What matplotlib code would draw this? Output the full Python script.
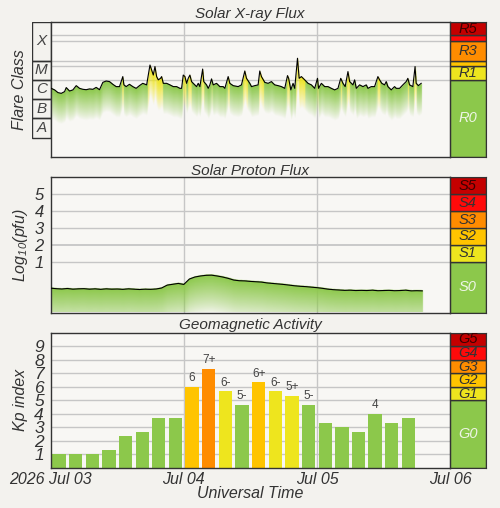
import numpy as np
import matplotlib.pyplot as plt
from matplotlib.patches import Rectangle
from matplotlib.colors import to_rgb

plt.rcParams['font.family'] = ['Liberation Sans', 'DejaVu Sans']
plt.rcParams['font.style'] = 'italic'
plt.rcParams['mathtext.fontset'] = 'custom'
plt.rcParams['mathtext.rm'] = 'Liberation Sans:italic'
plt.rcParams['mathtext.it'] = 'Liberation Sans:italic'

# X-ray flux, hours after 2026 Jul 03 00:00 UT, log10(W/m^2)
xray_hours = [0.1, 0.7, 1.3, 1.9, 2.5, 2.8, 3.4, 4.0, 4.6, 5.2, 5.8, 6.4, 7.0, 7.6, 8.2,
              8.8, 9.4, 10.0, 10.6, 11.2, 11.8, 12.4, 13.0, 13.2, 13.6, 14.2, 14.8, 15.4, 16.0, 16.6,
              17.3, 17.9, 18.2, 18.5, 18.8, 19.1, 19.4, 19.8, 20.0, 20.3, 20.9, 21.5, 22.1, 22.7,
              23.3, 23.6, 23.9, 24.2, 24.5, 24.8, 25.1, 25.4, 25.7, 26.3, 26.6, 26.9, 27.4, 27.6,
              28.1, 28.4, 28.7, 29.0, 29.3, 29.9, 30.5, 31.1, 31.4, 32.0, 32.3, 32.9,
              33.8, 34.4, 35.0, 35.3, 35.9, 36.2, 36.8, 37.4, 37.7, 38.0, 38.6, 39.2, 39.8, 40.1,
              40.4, 41.0, 41.6, 42.2, 42.7, 42.9, 43.3, 43.7, 44.0, 44.5, 44.8, 45.2, 45.8, 46.4,
              47.0, 47.6, 48.1, 48.3, 48.8, 49.4,
              50.0, 50.6, 51.2, 51.8, 52.3, 52.7, 53.1, 53.6, 53.9, 54.5, 54.8, 55.1, 55.7, 56.3,
              56.9, 57.2, 57.8, 58.4, 59.0, 59.3, 59.7, 60.2, 60.5, 60.8, 61.4, 62.0, 62.3, 62.9,
              63.5, 64.1, 64.4, 64.7, 65.3, 65.7, 65.9, 66.3, 66.8]
xray_log10 = [-5.44, -5.52, -5.66, -5.70, -5.61, -5.40, -5.58, -5.52, -5.30, -5.44, -5.49, -5.51,
              -5.47, -5.49, -5.39, -5.51, -5.13, -5.06, -5.09, -5.23, -5.35, -5.35, -4.83, -5.26,
              -5.35, -5.23, -5.35, -5.44, -5.30, -5.18,
              -5.26, -4.23, -4.49, -4.75, -4.31, -4.83, -5.00, -4.92, -4.83, -5.18, -5.18, -5.26,
              -5.35, -5.35, -5.44, -5.44, -4.75, -4.83, -5.18, -4.92, -4.75, -5.09, -5.18, -5.35,
              -5.18, -5.35, -4.44, -5.09, -5.26, -5.44, -5.26, -4.95, -5.26, -5.18, -5.35, -5.35,
              -5.44, -4.83, -5.18, -5.30,
              -5.35, -5.26, -4.54, -4.92, -5.18, -5.35, -5.30, -5.26, -4.54, -4.83, -5.13, -5.18,
              -5.09, -5.18, -5.26, -5.30, -5.35, -5.44, -4.78, -4.92, -5.52, -5.18, -5.44, -3.88,
              -4.92, -4.83, -5.00, -5.18, -5.26, -5.44, -4.92, -5.44, -5.18, -5.35,
              -5.35, -5.44, -5.52, -5.44, -4.92, -5.18, -5.35, -4.57, -5.09, -5.26, -5.00, -5.44,
              -5.26, -5.35, -5.26, -5.44, -5.35, -5.35, -4.83, -5.00, -5.18, -5.26, -5.09, -5.35,
              -5.52, -5.35, -5.44, -5.44, -5.26, -5.09, -4.92, -5.26, -5.35, -4.31, -5.18, -5.30,
              -5.18]

# proton flux (>=10 MeV), log10(pfu), hourly
proton_hours = list(range(68))
proton_log10 = [-0.56, -0.59, -0.61, -0.58, -0.62, -0.60, -0.59, -0.62, -0.60, -0.63,
                -0.60, -0.62, -0.61, -0.63, -0.60, -0.62, -0.64, -0.62, -0.63, -0.61,
                -0.55, -0.38, -0.33, -0.28, -0.34, -0.02, 0.10, 0.16, 0.20, 0.21,
                0.16, 0.10, 0.02, -0.08, -0.12, -0.13, -0.16, -0.18, -0.20, -0.25,
                -0.28, -0.31, -0.34, -0.38, -0.42, -0.45, -0.47, -0.50, -0.53, -0.57,
                -0.62, -0.65, -0.67, -0.69, -0.68, -0.70, -0.69, -0.70, -0.68, -0.71,
                -0.70, -0.69, -0.71, -0.70, -0.68, -0.72, -0.71, -0.72]

# planetary Kp, 3-hour intervals
kp_hours = [1.5 + 3 * i for i in range(22)]
kp_values = [1.0, 1.0, 1.0, 1.33, 2.33, 2.67, 3.67, 3.67, 6.0, 7.33, 5.67, 4.67,
             6.33, 5.67, 5.33, 4.67, 3.33, 3.0, 2.67, 4.0, 3.33, 3.67]
kp_labels = ["1", "1", "1", "1+", "2+", "3-", "4-", "4-", "6", "7+", "6-", "5-",
             "6+", "6-", "5+", "5-", "3+", "3", "3-", "4", "3+", "4-"]

day_ticks = [0, 24, 48, 72]
day_labels = ["2026 Jul 03", "Jul 04", "Jul 05", "Jul 06"]

BG = '#f3f2ee'
AXBG = '#f8f7f4'
GRID = '#c6c6c6'
EDGE = '#333333'
TXT = '#333333'
DARKRED = '#c40000'
RED = '#ff0a0a'
ORANGE = '#ff8c00'
GOLD = '#ffc400'
YELLOW = '#eee51e'
GREEN = '#8cc84b'

fig = plt.figure(figsize=(5, 5.08), dpi=100, facecolor=BG)


def box(l, t, r, b):
    return [l / 500, 1 - b / 508, (r - l) / 500, (b - t) / 508]


def gradient_fill(ax, hours, vals, ylo, yhi, depth, power, hi_level=None):
    xs = np.linspace(0, 72, 1200)
    ys = np.linspace(ylo, yhi, 500)
    c = np.interp(xs, hours, vals, left=np.nan, right=np.nan)
    d = c[None, :] - ys[:, None]
    a = np.clip(1 - d / depth, 0, 1) ** power
    a[(d < 0) | np.isnan(d)] = 0
    img = np.zeros((len(ys), len(xs), 4))
    g = np.array(to_rgb(GREEN))
    y = np.array(to_rgb(YELLOW))
    cols = np.tile(g, (len(xs), 1))
    if hi_level is not None:
        cols[np.nan_to_num(c, nan=-99) > hi_level] = y
    img[:, :, :3] = cols[None, :, :]
    img[:, :, 3] = a
    ax.imshow(img, extent=[0, 72, ylo, yhi], origin='lower', aspect='auto',
              interpolation='bilinear', zorder=1)


def style_axes(ax, ylo, yhi):
    ax.set_facecolor(AXBG)
    for s in ax.spines.values():
        s.set_color(EDGE)
        s.set_linewidth(1)
    ax.set_xlim(0, 72)
    ax.set_ylim(ylo, yhi)
    for h in (24, 48):
        ax.axvline(h, color=GRID, lw=1, zorder=0.5)


def scale_bar(rect, ylo, yhi, levels):
    sax = fig.add_axes(rect)
    sax.set_xlim(0, 1)
    sax.set_ylim(ylo, yhi)
    sax.set_xticks([])
    sax.set_yticks([])
    for s in sax.spines.values():
        s.set_color(EDGE)
    for lo, hi, lab, col, tcol in levels:
        sax.add_patch(Rectangle((0, lo), 1, hi - lo, facecolor=col, edgecolor=EDGE, lw=1))
        if lab:
            sax.text(0.5, (lo + hi) / 2, lab, ha='center', va='center', fontsize=10.5, color=tcol)
    return sax


# ---- Solar X-ray Flux ----
ax1 = fig.add_axes(box(50.7, 22, 450, 157))
style_axes(ax1, -9, -2)
for lv in (-5, np.log10(5e-5), -4, -3, np.log10(2e-3)):
    ax1.axhline(lv, color=GRID, lw=1, zorder=0.5)
gradient_fill(ax1, xray_hours, xray_log10, -9, -2, 1.6, 0.9, hi_level=-5)
ax1.plot(xray_hours, xray_log10, color='black', lw=0.8, zorder=3)
ax1.set_xlim(0, 72)
ax1.set_ylim(-9, -2)
ax1.set_xticks([])
ax1.set_yticks([])

cls = fig.add_axes(box(32, 22, 50.7, 157))
cls.set_xlim(0, 1)
cls.set_ylim(-9, -2)
cls.axis('off')
for lo, hi, lab in [(-8, -7, 'A'), (-7, -6, 'B'), (-6, -5, 'C'), (-5, -4, 'M'), (-4, -2, 'X')]:
    cls.add_patch(Rectangle((0, lo), 1, hi - lo, facecolor='none', edgecolor=EDGE, lw=1))
    cls.text(0.5, (lo + hi) / 2, lab, ha='center', va='center', fontsize=11, color='#444444')

scale_bar(box(450, 22, 485.7, 157), -9, -2, [
    (-9, -5, 'R0', GREEN, '#eef5e6'),
    (-5, np.log10(5e-5), 'R1', YELLOW, TXT),
    (np.log10(5e-5), -4, '', GOLD, TXT),
    (-4, -3, 'R3', ORANGE, TXT),
    (-3, np.log10(2e-3), '', RED, TXT),
    (np.log10(2e-3), -2, 'R5', DARKRED, '#3a0000'),
])

# ---- Solar Proton Flux ----
ax2 = fig.add_axes(box(50.7, 177.3, 450, 312.5))
style_axes(ax2, -2, 6)
for lv in range(1, 6):
    ax2.axhline(lv, color=GRID, lw=1.3 if lv == 2 else 1, zorder=0.5)
gradient_fill(ax2, proton_hours, proton_log10, -2, 6, 2.3, 0.8)
ax2.plot(proton_hours, proton_log10, color='black', lw=0.8, zorder=3)
ax2.set_xlim(0, 72)
ax2.set_ylim(-2, 6)
ax2.set_xticks([])
ax2.set_yticks(range(1, 6))
ax2.tick_params(axis='y', length=0, pad=5, labelsize=12, labelcolor=TXT)

scale_bar(box(450, 177.3, 485.7, 312.5), -2, 6, [
    (-2, 1, 'S0', GREEN, '#eef5e6'),
    (1, 2, 'S1', YELLOW, TXT),
    (2, 3, 'S2', GOLD, TXT),
    (3, 4, 'S3', ORANGE, TXT),
    (4, 5, 'S4', RED, TXT),
    (5, 6, 'S5', DARKRED, '#3a0000'),
])

# ---- Geomagnetic Activity ----
ax3 = fig.add_axes(box(50.7, 332.7, 450, 468))
style_axes(ax3, 0, 10)
for lv in range(1, 10):
    ax3.axhline(lv, color=GRID, lw=1, zorder=0.5)


def kp_color(v):
    if v >= 8:
        return RED
    if v >= 7:
        return ORANGE
    if v >= 6:
        return GOLD
    if v >= 5:
        return YELLOW
    return GREEN


ax3.bar(kp_hours, kp_values, width=2.4, color=[kp_color(v) for v in kp_values], zorder=2)
for h, v, lab in zip(kp_hours, kp_values, kp_labels):
    if v >= 4:
        ax3.text(h, v + 0.2, lab, ha='center', va='bottom', fontsize=8.5, style='normal',
                 color='#444444', zorder=4)
ax3.set_xlim(0, 72)
ax3.set_ylim(0, 10)
ax3.set_yticks(range(1, 10))
ax3.set_xticks(day_ticks)
ax3.set_xticklabels(day_labels)
ax3.set_xticks(kp_hours, minor=True)
ax3.tick_params(axis='y', length=0, pad=5, labelsize=12.5, labelcolor=TXT)
ax3.tick_params(axis='x', which='major', length=0, pad=3, labelsize=11.5, labelcolor=TXT)
ax3.tick_params(axis='x', which='minor', direction='in', length=3, width=1, color='white')

scale_bar(box(450, 332.7, 485.7, 468), 0, 10, [
    (0, 5, 'G0', GREEN, '#eef5e6'),
    (5, 6, 'G1', YELLOW, TXT),
    (6, 7, 'G2', GOLD, TXT),
    (7, 8, 'G3', ORANGE, TXT),
    (8, 9, 'G4', RED, TXT),
    (9, 10, 'G5', DARKRED, '#3a0000'),
])

# titles and axis labels
fig.text(250 / 500, 1 - 14 / 508, 'Solar X-ray Flux', ha='center', va='center', fontsize=11, color=TXT)
fig.text(250 / 500, 1 - 170.5 / 508, 'Solar Proton Flux', ha='center', va='center', fontsize=11, color=TXT)
fig.text(250 / 500, 1 - 325 / 508, 'Geomagnetic Activity', ha='center', va='center', fontsize=11, color=TXT)
fig.text(20 / 500, 1 - 89.5 / 508, 'Flare Class', rotation=90, ha='center', va='center', fontsize=11.5, color=TXT)
fig.text(20 / 500, 1 - 245 / 508, 'Log$_{10}$(pfu)', rotation=90, ha='center', va='center', fontsize=11.5, color=TXT)
fig.text(20 / 500, 1 - 400 / 508, 'Kp index', rotation=90, ha='center', va='center', fontsize=11.5, color=TXT)
fig.text(250 / 500, 1 - 494 / 508, 'Universal Time', ha='center', va='center', fontsize=11.5, color=TXT)

fig.savefig('out.png', dpi=100, facecolor=BG)
